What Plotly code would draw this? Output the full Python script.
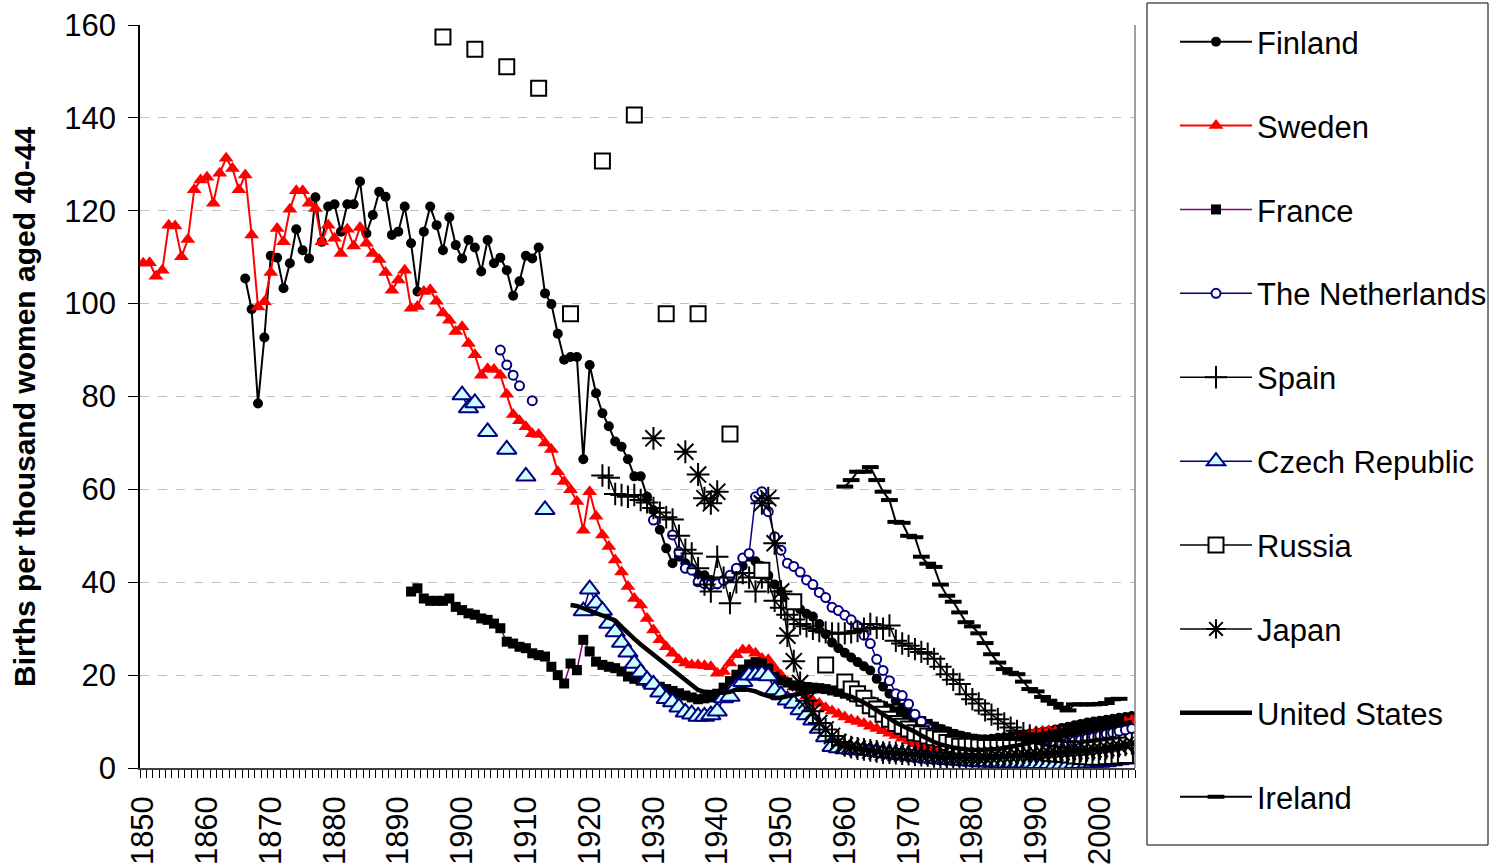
import plotly.graph_objects as go

# ---------------- data (births per thousand women aged 40-44) ----------------
sweden_years = list(range(1850, 2006))
sweden_vals = [108.7,108.8,105.9,107.2,116.9,116.7,110.1,113.8,124.5,126.6,
 127.2,121.6,128.1,131.3,129.1,124.5,127.7,114.8,99.3,100.4,
 106.7,116.2,113.3,120.3,124.3,124.3,121.6,120.5,113.3,116.9,
 114.1,110.8,116.0,112.4,116.4,113.0,110.8,109.5,106.7,102.9,
 105.1,107.2,99.0,99.4,102.6,103.0,100.5,98.0,96.4,94.0,
 95.0,91.4,89.0,84.6,86.0,85.8,84.6,80.5,76.1,74.8,
 73.5,72.0,71.8,70.0,68.6,63.8,61.7,59.9,57.4,51.2,
 59.5,54.2,50.2,47.7,44.8,42.2,39.1,36.5,35.1,32.2,
 29.7,27.6,26.1,24.7,23.3,22.6,22.2,22.2,22.0,21.8,
 20.4,20.8,22.6,24.4,25.4,25.4,24.7,23.6,23.3,21.5,
 20.0,18.5,17.5,16.5,15.5,14.5,13.9,13.0,12.3,11.6,
 11.0,10.4,10.0,9.6,9.0,8.5,8.0,7.5,7.0,6.4,
 5.8,5.2,4.7,4.2,3.8,3.5,3.2,3.0,2.9,2.9,
 3.0,3.2,3.5,3.9,4.4,5.0,5.6,6.3,7.0,7.5,
 7.8,7.9,8.0,7.8,7.6,7.4,7.3,7.4,7.7,8.0,
 8.4,8.8,9.2,9.6,9.9,10.3]

finland_years = list(range(1866, 2006))
finland_vals = [105.4,98.8,78.5,92.7,
 110.3,109.9,103.3,108.7,116.0,111.5,109.7,122.9,113.3,120.9,
 121.4,115.5,121.4,121.4,126.3,115.1,119.1,124.1,123.0,114.8,
 115.5,120.9,113.0,102.6,115.5,120.9,116.9,111.5,118.6,112.6,
 109.7,113.7,112.1,106.9,113.7,108.7,109.9,107.2,101.7,104.8,
 110.3,109.7,112.1,102.2,99.9,93.5,87.9,88.5,88.5,66.5,
 86.8,80.7,76.4,73.6,70.3,69.2,66.5,62.8,62.8,58.4,
 55.5,51.3,47.3,44.1,45.5,44.1,43.0,41.6,41.5,40.5,
 39.5,40.5,41.0,42.5,43.5,45.5,44.5,43.5,41.5,39.5,
 38.0,36.6,35.2,34.2,33.2,32.6,31.0,28.8,27.0,25.8,
 24.8,23.8,22.8,21.9,21.0,19.2,17.5,16.0,14.5,13.0,
 12.0,11.0,10.2,9.5,8.9,8.4,7.9,7.4,7.0,6.6,
 6.3,6.2,6.2,6.3,6.5,6.6,6.8,7.0,7.2,7.4,
 7.6,7.8,8.0,8.3,8.6,8.9,9.2,9.5,9.8,10.0,
 10.2,10.4,10.6,10.8,11.0,11.2]

france_years = list(range(1892, 2004))
france_vals = [38.0,38.7,36.5,36.0,36.0,36.0,36.5,34.7,
 34.0,33.3,33.0,32.2,31.9,31.1,30.1,27.2,26.8,26.1,
 25.8,24.7,24.3,24.0,21.8,20.0,18.2,22.5,21.1,27.6,
 25.1,22.9,22.2,21.8,21.5,20.8,19.7,19.2,18.8,18.4,
 18.0,17.5,17.0,16.6,16.1,15.6,15.2,14.8,15.0,15.2,
 16.0,17.3,18.7,20.1,21.2,22.3,22.8,22.5,21.5,19.7,
 18.9,18.4,17.8,17.6,17.4,17.3,17.2,17.0,16.7,16.4,
 16.0,15.6,15.2,14.8,14.3,13.8,13.3,12.8,12.2,11.7,
 11.2,10.7,10.1,9.5,8.9,8.3,7.8,7.3,6.9,6.6,
 6.3,6.1,5.9,5.8,5.7,5.7,5.8,5.9,6.0,6.2,
 6.4,6.6,6.9,7.2,7.5,7.8,8.1,8.4,8.7,9.0,
 9.3,9.5,9.7,9.9]

netherlands_years = ([1906, 1907, 1908, 1909, 1911, 1930, 1933]
                     + list(range(1934, 2006)))
netherlands_vals = [90.0,86.8,84.6,82.3,79.1,53.4,50.2,
 46.5,43.0,42.6,40.1,39.7,39.5,
 39.7,40.4,41.5,43.0,45.2,46.2,58.4,59.5,55.2,49.8,
 46.9,44.1,43.4,42.2,40.5,39.5,37.8,36.7,34.6,33.9,
 32.9,31.9,30.6,28.6,26.8,23.4,21.0,18.8,16.0,15.6,
 13.8,11.6,10.0,8.6,7.4,6.4,5.6,5.0,4.5,4.1,
 3.8,3.6,3.5,3.4,3.4,3.4,3.5,3.6,3.8,4.0,
 4.2,4.5,4.7,5.0,5.2,5.5,5.8,6.1,6.4,6.7,
 7.0,7.3,7.6,7.9,8.2,8.5]

spain_years = list(range(1922, 2005))
spain_vals = [63.0,62.5,59.0,58.8,58.4,58.8,57.7,57.2,
 56.0,55.0,54.0,53.5,50.0,47.0,46.2,43.0,39.5,38.0,
 45.5,41.0,35.5,40.0,42.0,41.0,38.0,41.0,40.0,36.0,
 34.5,33.0,32.0,31.0,30.5,30.0,29.5,29.2,29.0,28.9,
 29.0,29.2,29.5,30.0,31.0,30.2,30.0,30.7,27.4,26.8,
 26.3,25.6,25.0,24.6,23.5,21.8,20.2,19.0,18.1,15.9,
 14.8,13.9,12.4,11.5,10.5,9.6,8.7,8.0,7.5,7.0,
 6.6,6.3,6.1,5.9,5.8,5.7,5.6,5.6,5.7,5.9,
 6.1,6.3,6.5]

czech_years = ([1900, 1901, 1902, 1904, 1907, 1910, 1913]
               + list(range(1919, 2006)))
czech_vals = [80.3,77.5,78.6,72.4,68.6,62.8,55.6,
 33.8,
 38.5,35.5,33.9,31.1,29.3,27.0,24.9,22.5,20.6,19.0,
 18.0,16.3,14.9,14.2,13.1,12.0,11.6,11.1,11.1,11.4,
 12.2,15.1,15.4,17.5,18.6,20.0,20.0,20.2,19.8,16.8,
 15.7,14.6,13.9,12.5,11.4,10.3,8.5,6.7,4.6,4.3,
 4.1,4.0,3.9,3.8,3.7,3.5,3.3,3.1,2.9,2.8,
 2.7,2.5,2.3,2.1,2.0,1.9,1.8,1.7,1.6,1.5,
 1.4,1.3,1.3,1.2,1.2,1.1,1.1,1.0,1.0,1.0,
 0.9,0.9,0.9,0.8,0.8,0.8,0.9,0.9,1.0,1.1,
 1.2,1.3,1.5,1.7,1.9,2.1]

russia_years = ([1897, 1902, 1907, 1912, 1917, 1922, 1927, 1932, 1937,
                 1942, 1947, 1952, 1957] + list(range(1960, 2005)))
russia_vals = [157.4,154.8,151.0,146.4,97.8,130.7,140.6,97.8,97.8,
 71.9,42.6,35.8,22.2,
 18.5,17.0,16.0,15.0,13.4,12.7,11.6,10.5,9.6,9.0,
 8.4,7.6,7.4,6.9,6.5,6.2,5.5,5.1,4.7,4.7,
 4.7,4.5,4.4,4.4,4.4,4.4,4.4,4.4,4.3,4.1,
 3.8,3.5,3.2,3.0,2.9,2.8,2.6,2.5,2.4,2.3,
 2.3,2.4,2.5,2.6,2.7]

japan_years = ([1930, 1935, 1937, 1938, 1939, 1940]
               + list(range(1947, 2006)))
japan_vals = [71.0,68.1,63.2,58.1,57.0,59.5,
 57.0,58.1,48.4,
 38.0,28.5,23.0,18.3,14.5,12.2,9.7,8.3,6.9,5.6,
 4.9,4.5,4.2,4.0,3.8,3.6,3.3,3.3,3.2,3.1,
 3.0,2.9,2.8,2.7,2.5,2.4,2.3,2.2,2.2,2.1,
 2.1,2.1,2.2,2.3,2.4,2.5,2.6,2.7,2.8,2.9,
 3.0,3.1,3.2,3.3,3.4,3.5,3.6,3.7,3.8,4.0,
 4.1,4.3,4.5,4.7,5.0,5.3]

us_years = list(range(1917, 2006))
us_vals = [35.1,34.9,34.4,
 33.9,33.4,32.9,32.3,31.8,30.4,29.0,27.8,26.6,25.5,
 24.3,23.2,22.1,21.0,20.0,19.0,17.9,16.8,16.4,16.3,
 16.2,16.2,16.4,16.9,17.1,16.9,16.5,15.9,15.4,15.1,
 15.2,15.4,15.7,16.0,16.3,16.5,16.6,16.6,16.4,16.1,
 15.8,15.4,14.8,14.1,13.3,12.4,11.5,10.6,9.8,9.1,
 8.5,7.8,7.0,6.2,5.6,5.1,4.7,4.4,4.2,4.0,
 3.9,3.9,3.9,4.0,4.1,4.3,4.5,4.8,5.1,5.4,
 5.7,6.0,6.3,6.6,6.9,7.2,7.5,7.8,8.1,8.4,
 8.6,8.8,9.0,9.3,9.6,9.9]

ireland_years = list(range(1960, 2004))
ireland_vals = [60.6,62.0,63.8,63.8,64.8,62.0,59.5,57.7,53.0,52.8,
 50.0,49.7,45.5,44.0,43.3,39.5,37.1,35.8,33.5,31.4,
 30.5,29.0,26.9,24.5,22.7,21.3,20.5,20.2,18.6,17.0,
 16.5,15.3,14.5,13.8,13.0,12.4,13.7,13.7,13.7,13.7,
 13.8,14.0,14.8,14.9]

x_tick_labels = [str(y) for y in range(1850, 2001, 10)]
y_tick_values = list(range(0, 161, 20))

FONT = "Arial, 'Liberation Sans', sans-serif"
W, H = 1490, 866
L, R, T, B = 140, 355, 25, 98
PW, PH = W - L - R, H - T - B


def px_to_paper_x(px):
    return (px - L) / PW


def px_to_paper_y(py):
    return (H - B - py) / PH


def with_gaps(years, vals):
    """Insert None between non-consecutive years so lines break there."""
    xs, ys = [], []
    for i, (yr, v) in enumerate(zip(years, vals)):
        if i > 0 and yr - years[i - 1] > 1:
            xs.append(yr - 0.5)
            ys.append(None)
        xs.append(yr)
        ys.append(v)
    return xs, ys


series = [
    ("Finland", finland_years, finland_vals,
     dict(color="black", width=2),
     dict(symbol="circle", size=10, color="black")),
    ("Sweden", sweden_years, sweden_vals,
     dict(color="#FF0000", width=2),
     dict(symbol="triangle-up", size=13, color="#FF0000")),
    ("France", france_years, france_vals,
     dict(color="#800080", width=1.5),
     dict(symbol="square", size=10, color="black")),
    ("The Netherlands", netherlands_years, netherlands_vals,
     dict(color="#000080", width=1.5),
     dict(symbol="circle", size=9, color="white",
          line=dict(color="#000080", width=2))),
    ("Spain", spain_years, spain_vals,
     dict(color="black", width=1.5),
     dict(symbol="cross-thin-open", size=16, color="black",
          line=dict(color="black", width=2))),
    ("Czech Republic", czech_years, czech_vals,
     dict(color="#000080", width=1.5),
     dict(symbol="triangle-up", size=17, color="#CCFFFF",
          line=dict(color="#000080", width=2))),
    ("Russia", russia_years, russia_vals,
     dict(color="black", width=1.5),
     dict(symbol="square", size=15, color="white",
          line=dict(color="black", width=2))),
    ("Japan", japan_years, japan_vals,
     dict(color="black", width=1.5),
     dict(symbol="asterisk-open", size=19, color="black",
          line=dict(color="black", width=2))),
    ("United States", us_years, us_vals,
     dict(color="black", width=4.5), None),
    ("Ireland", ireland_years, ireland_vals,
     dict(color="black", width=2),
     dict(symbol="line-ew-open", size=12, color="black",
          line=dict(color="black", width=4))),
]

fig = go.Figure()
for name, yrs, vals, line, marker in series:
    xs, ys = with_gaps(yrs, vals)
    fig.add_trace(go.Scatter(
        x=xs, y=ys, name=name, legendgroup=name,
        mode="lines+markers" if marker else "lines",
        line=line, marker=marker, connectgaps=False,
    ))

# legend frame (drawn as a shape so the items can be inset like the original)
fig.add_shape(type="rect", xref="paper", yref="paper",
              x0=px_to_paper_x(1147), x1=px_to_paper_x(1488),
              y0=px_to_paper_y(845), y1=px_to_paper_y(3),
              line=dict(color="black", width=1), fillcolor="rgba(0,0,0,0)",
              layer="below")
# right border of the plot area
fig.add_shape(type="line", xref="paper", yref="paper",
              x0=1, x1=1, y0=0, y1=1,
              line=dict(color="#808080", width=1.5))

# y-axis title placed as in the original
fig.add_annotation(
    text="<b>Births per thousand women aged 40-44</b>",
    xref="paper", yref="paper",
    x=px_to_paper_x(25), y=px_to_paper_y(407),
    xanchor="center", yanchor="middle", textangle=-90, showarrow=False,
    font=dict(family=FONT, size=30, color="black"),
)

fig.update_layout(
    width=W, height=H,
    margin=dict(l=L, r=R, t=T, b=B, autoexpand=False),
    paper_bgcolor="white", plot_bgcolor="white",
    font=dict(family=FONT, size=31, color="black"),
    showlegend=True,
    legend=dict(
        x=px_to_paper_x(1175), y=px_to_paper_y(15), xanchor="left", yanchor="top",
        borderwidth=0, bgcolor="rgba(0,0,0,0)",
        font=dict(family=FONT, size=31, color="black"),
        tracegroupgap=40.6, itemwidth=72, traceorder="grouped",
        maxheight=860,
    ),
)

fig.update_xaxes(
    range=[1849.5, 2005.5], automargin=False,
    tickmode="array", tickvals=list(range(1850, 2001, 10)),
    ticktext=x_tick_labels, tickangle=-90,
    tickfont=dict(family=FONT, size=31),
    ticks="outside", ticklen=8, tickcolor="rgba(0,0,0,0)",
    ticklabelstandoff=6,
    minor=dict(tick0=1849.5, dtick=1, ticks="outside", ticklen=8,
               tickcolor="black", tickwidth=1, showgrid=False),
    showline=True, linecolor="#404040", linewidth=1.5,
    showgrid=False, zeroline=False, mirror=False,
)
fig.update_yaxes(
    range=[0, 160], automargin=False, tickmode="array", tickvals=y_tick_values,
    tickfont=dict(family=FONT, size=31),
    ticks="outside", ticklen=10, tickcolor="black",
    ticklabelstandoff=6,
    showline=True, linecolor="black", linewidth=1.5,
    showgrid=True, gridcolor="#C0C0C0", griddash="dash", gridwidth=1,
    zeroline=False,
)

fig.write_html("out.html")
